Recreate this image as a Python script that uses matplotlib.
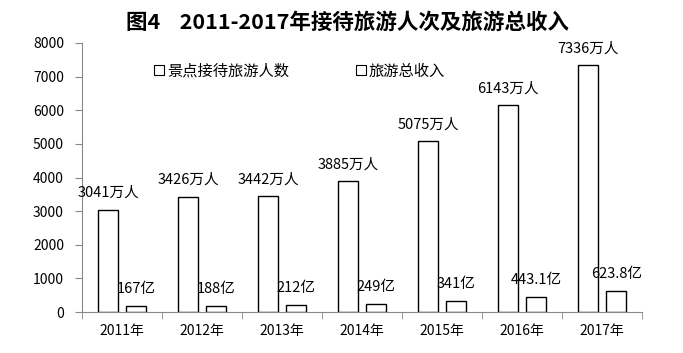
import matplotlib
matplotlib.use("Agg")
import matplotlib.pyplot as plt
from matplotlib.lines import Line2D
import numpy as np

plt.rcParams['font.family'] = ['Noto Sans CJK SC', 'DejaVu Sans']

years = ["2011年", "2012年", "2013年", "2014年", "2015年", "2016年", "2017年"]
visitors = [3041, 3426, 3442, 3885, 5075, 6143, 7336]
revenue = [167, 188, 212, 249, 341, 443.1, 623.8]
visitor_labels = ["3041万人", "3426万人", "3442万人", "3885万人", "5075万人", "6143万人", "7336万人"]
revenue_labels = ["167亿", "188亿", "212亿", "249亿", "341亿", "443.1亿", "623.8亿"]
series_names = ["景点接待旅游人数", "旅游总收入"]
title = "图4    2011-2017年接待旅游人次及旅游总收入"

fig = plt.figure(figsize=(6.83, 3.53), dpi=100)
ax = fig.add_axes([82/683, 41/353, 560/683, 269/353])

x = np.arange(len(years))
w = 0.25
ax.bar(x - 0.175, visitors, w, facecolor='white', edgecolor='black', linewidth=1)
ax.bar(x + 0.18, revenue, w, facecolor='white', edgecolor='black', linewidth=1)

for xi, v, lab in zip(x, visitors, visitor_labels):
    ax.annotate(lab, (xi - 0.175, v), xytext=(0, 17), textcoords='offset pixels',
                ha='center', va='center', fontsize=10.5)
for xi, v, lab in zip(x, revenue, revenue_labels):
    ax.annotate(lab, (xi + 0.18, v), xytext=(0, 17), textcoords='offset pixels',
                ha='center', va='center', fontsize=10.5)

ax.set_xlim(-0.5, len(years) - 0.5)
ax.set_ylim(0, 8000)
ax.set_yticks(range(0, 8001, 1000))
ax.set_xticks(x)
ax.set_xticklabels(years, fontsize=10)
ax.set_xticks(np.arange(-0.5, len(years)), minor=True)
ax.tick_params(axis='x', which='major', length=0, pad=9)
ax.tick_params(axis='x', which='minor', length=5, color='#888888', direction='out')
ax.tick_params(axis='y', length=5, color='#888888', labelsize=10, pad=8)
for s in ['top', 'right']:
    ax.spines[s].set_visible(False)
for s in ['left', 'bottom']:
    ax.spines[s].set_color('#888888')

handles = [Line2D([], [], marker='s', linestyle='none', markerfacecolor='white',
                  markeredgecolor='black', markersize=7, markeredgewidth=0.8)
           for _ in series_names]
ax.legend(handles, series_names, ncol=2, frameon=False, fontsize=11,
          loc='center left', bbox_to_anchor=(0.10, 0.895), handletextpad=0.0,
          columnspacing=4.2, handlelength=1.0)

fig.text(347/683, 1 - 22/353, title, ha='center', va='center', fontsize=15.5, fontweight='bold')

fig.savefig("out.png", dpi=100)
